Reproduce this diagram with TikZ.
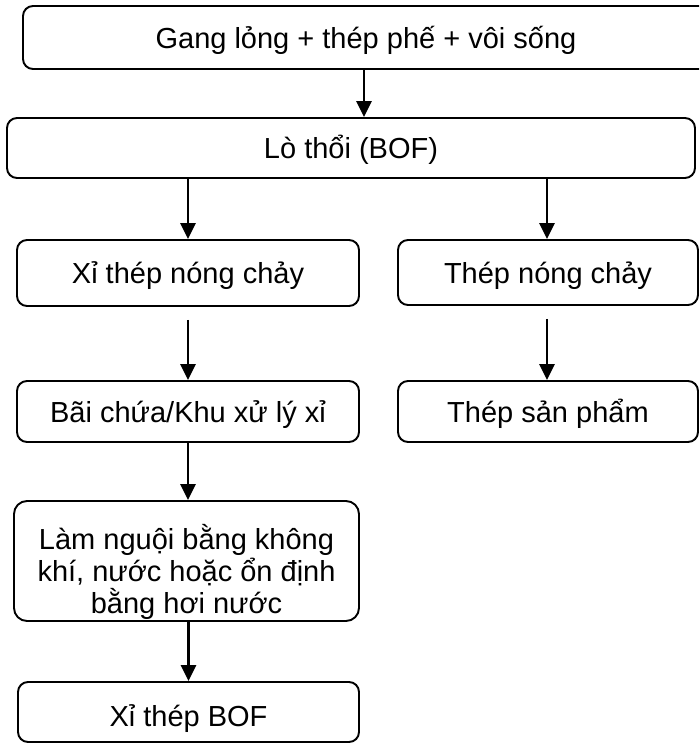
\documentclass[tikz,border=0pt]{standalone}
\usepackage{fontspec}
\setmainfont{Liberation Sans}
\usetikzlibrary{arrows.meta}
\begin{document}
\begin{tikzpicture}[x=1pt,y=-1pt,
  boxbase/.style={draw, line width=1.9pt, rounded corners=10pt, rectangle, inner sep=0pt,
    font=\fontsize{29}{32}\selectfont},
  box/.style={boxbase, text height=21pt, text depth=0pt},
  arr/.style={line width=2.9pt, -{Triangle[length=16pt,width=15pt]}}]
\useasboundingbox (0,0) rectangle (699,744);
\clip (0,0) rectangle (699,744);
\node[box, minimum width=686pt, minimum height=63pt] (top) at (366,37.5) {Gang lỏng + thép phế + vôi sống};
\node[box, minimum width=688pt, minimum height=60pt] (lo) at (351,148) {Lò thổi (BOF)};
\node[box, minimum width=342pt, minimum height=66pt] (xi) at (188,273) {Xỉ thép nóng chảy};
\node[box, minimum width=300pt, minimum height=65pt] (thep) at (548,272.5) {Thép nóng chảy};
\node[box, minimum width=342pt, minimum height=61pt] (bai) at (188,411.5) {Bãi chứa/Khu xử lý xỉ};
\node[box, minimum width=300pt, minimum height=61pt] (sp) at (548,411.5) {Thép sản phẩm};
\node[boxbase, rounded corners=13pt, align=center, minimum width=345pt, minimum height=120pt] (lam) at (186.5,561)
  {\rule{0pt}{48pt}Làm nguội bằng không\\khí, nước hoặc ổn định\\bằng hơi nước};
\node[box, minimum width=341pt, minimum height=60pt] (bof) at (188.5,712) {\raisebox{-4pt}{Xỉ thép BOF}};
\draw[arr] ([xshift=-2pt]top.south) -- ([xshift=-2pt]top.south |- lo.north);
\draw[arr] (lo.south -| xi.north) -- (xi.north);
\draw[arr] ([xshift=-1pt]lo.south -| thep.north) -- ([xshift=-1pt]thep.north);
\draw[arr] ([yshift=-13pt]xi.south) -- (bai.north);
\draw[arr] ([xshift=-1pt,yshift=-13pt]thep.south) -- ([xshift=-1pt]sp.north);
\draw[arr] (bai.south) -- (bai.south |- lam.north);
\draw[arr] (lam.south -| bof.north) -- (bof.north);
\end{tikzpicture}
\end{document}
